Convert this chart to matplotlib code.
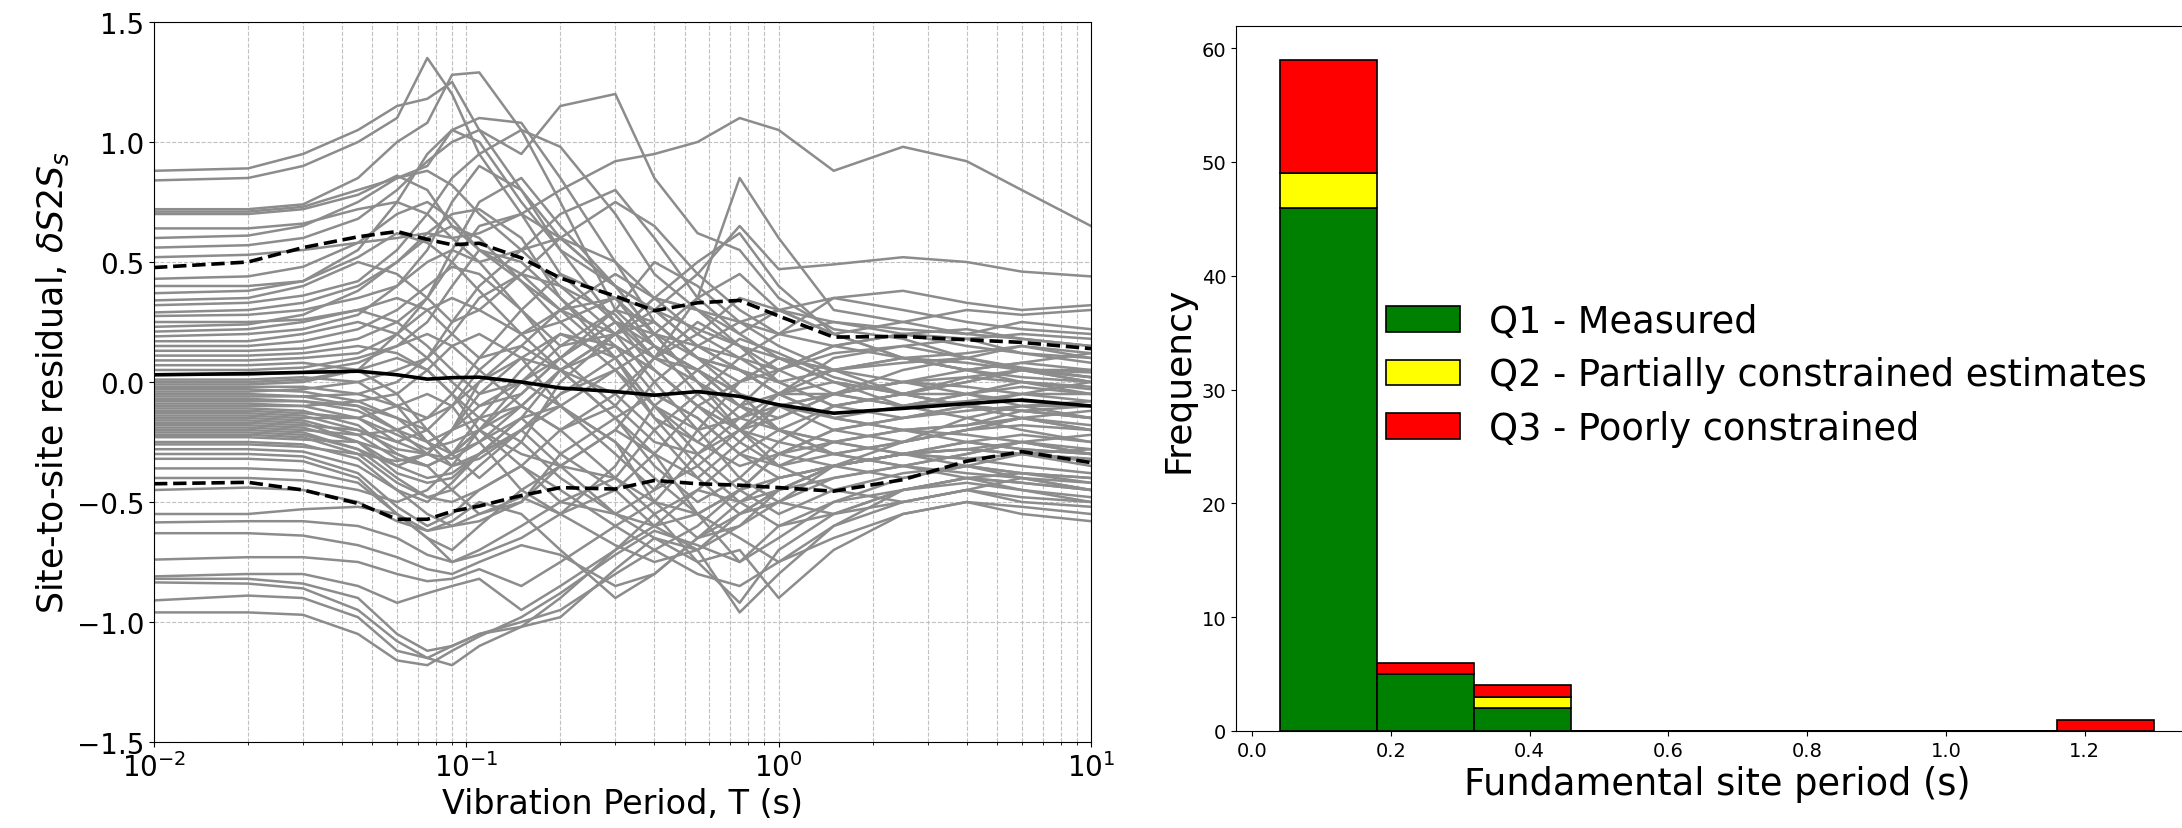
import matplotlib
matplotlib.use("Agg")
import matplotlib.pyplot as plt
import numpy as np

# periods (s) at which the site terms are tabulated
periods = [0.01, 0.02, 0.03, 0.045, 0.06, 0.075, 0.09, 0.11, 0.15, 0.2,
           0.3, 0.4, 0.55, 0.75, 1.0, 1.5, 2.5, 4.0, 6.0, 10.0]

# site-to-site residual per station
site_residuals = [
    [0.88, 0.89, 0.95, 1.05, 1.15, 1.18, 1.25, 1.05, 0.80, 0.60, 0.40, 0.30, 0.22, 0.15, 0.10, 0.05, 0.08, 0.10, 0.06, 0.02],
    [0.84, 0.85, 0.90, 1.00, 1.10, 1.35, 1.20, 0.95, 0.70, 0.45, 0.25, 0.10, 0.05, 0.18, 0.12, 0.02, -0.05, 0.00, 0.05, 0.04],
    [0.72, 0.72, 0.74, 0.85, 1.00, 1.08, 1.28, 1.29, 1.05, 0.75, 0.30, 0.15, 0.05, -0.10, -0.05, 0.05, 0.10, 0.12, 0.15, 0.10],
    [0.71, 0.71, 0.73, 0.80, 0.85, 0.90, 1.05, 1.10, 1.08, 0.85, 0.50, 0.35, 0.30, 0.25, 0.20, 0.15, 0.20, 0.22, 0.18, 0.15],
    [0.70, 0.70, 0.72, 0.78, 0.86, 0.80, 0.65, 0.55, 0.45, 0.30, 0.35, 0.20, 0.10, 0.05, -0.05, -0.15, -0.10, -0.05, -0.02, -0.05],
    [0.60, 0.61, 0.65, 0.75, 0.85, 0.88, 0.82, 0.70, 0.55, 0.40, 0.28, 0.10, 0.20, 0.35, 0.30, 0.20, 0.25, 0.30, 0.28, 0.30],
    [0.56, 0.57, 0.60, 0.68, 0.80, 0.92, 1.00, 1.05, 0.95, 1.15, 1.20, 0.85, 0.62, 0.55, 0.35, 0.22, 0.18, 0.10, 0.15, 0.12],
    [0.52, 0.53, 0.55, 0.58, 0.60, 0.62, 0.60, 0.62, 0.70, 0.80, 0.92, 0.95, 1.00, 1.10, 1.05, 0.88, 0.98, 0.92, 0.80, 0.65],
    [0.43, 0.44, 0.48, 0.58, 0.70, 0.75, 0.68, 0.55, 0.42, 0.30, 0.20, 0.30, 0.45, 0.65, 0.47, 0.49, 0.52, 0.50, 0.46, 0.44],
    [0.37, 0.38, 0.42, 0.52, 0.62, 0.58, 0.50, 0.38, 0.20, 0.05, -0.05, 0.10, 0.35, 0.85, 0.60, 0.30, 0.25, 0.20, 0.18, 0.15],
    [0.34, 0.35, 0.40, 0.50, 0.45, 0.35, 0.25, 0.30, 0.45, 0.60, 0.75, 0.65, 0.45, 0.30, 0.20, 0.35, 0.38, 0.33, 0.30, 0.32],
    [0.32, 0.33, 0.36, 0.42, 0.55, 0.70, 0.85, 0.95, 1.05, 0.98, 0.70, 0.45, 0.30, 0.20, 0.10, 0.00, -0.05, 0.02, 0.05, 0.00],
    [0.29, 0.30, 0.33, 0.40, 0.50, 0.62, 0.70, 0.72, 0.60, 0.35, 0.10, -0.10, -0.20, -0.15, -0.10, -0.05, 0.00, -0.02, -0.05, -0.08],
    [0.275, 0.28, 0.30, 0.35, 0.40, 0.50, 0.55, 0.50, 0.30, 0.15, 0.20, 0.35, 0.50, 0.62, 0.40, 0.20, 0.10, 0.05, 0.08, 0.05],
    [0.25, 0.25, 0.26, 0.30, 0.25, 0.15, 0.05, -0.05, 0.00, 0.10, 0.25, 0.15, 0.05, -0.05, -0.20, -0.25, -0.20, -0.18, -0.15, -0.20],
    [0.23, 0.24, 0.28, 0.38, 0.50, 0.60, 0.65, 0.60, 0.42, 0.25, 0.05, -0.15, -0.25, -0.10, 0.05, 0.15, 0.20, 0.18, 0.12, 0.10],
    [0.21, 0.22, 0.25, 0.30, 0.35, 0.30, 0.20, 0.10, 0.15, 0.30, 0.45, 0.35, 0.20, 0.10, 0.05, 0.12, 0.15, 0.10, 0.05, 0.02],
    [0.19, 0.20, 0.22, 0.28, 0.40, 0.55, 0.75, 0.90, 0.80, 0.55, 0.25, 0.05, -0.10, -0.20, -0.25, -0.10, -0.05, -0.10, -0.12, -0.15],
    [0.17, 0.17, 0.20, 0.25, 0.20, 0.10, 0.00, -0.10, -0.05, 0.10, 0.30, 0.50, 0.40, 0.25, 0.15, 0.05, 0.00, 0.05, 0.08, 0.12],
    [0.15, 0.15, 0.17, 0.22, 0.30, 0.40, 0.48, 0.45, 0.30, 0.10, -0.10, -0.25, -0.30, -0.20, -0.05, 0.10, 0.15, 0.18, 0.20, 0.18],
    [0.13, 0.13, 0.14, 0.18, 0.25, 0.35, 0.55, 0.75, 0.85, 0.65, 0.40, 0.20, 0.15, 0.05, -0.05, -0.15, -0.20, -0.25, -0.22, -0.25],
    [0.11, 0.11, 0.12, 0.15, 0.12, 0.05, -0.05, -0.15, -0.10, 0.05, 0.15, 0.05, -0.10, -0.25, -0.35, -0.30, -0.25, -0.20, -0.18, -0.20],
    [0.09, 0.09, 0.10, 0.12, 0.20, 0.30, 0.35, 0.30, 0.20, 0.25, 0.35, 0.30, 0.15, 0.25, 0.30, 0.25, 0.20, 0.15, 0.12, 0.08],
    [0.07, 0.07, 0.08, 0.05, -0.05, -0.20, -0.30, -0.25, -0.10, 0.05, 0.20, 0.10, 0.00, -0.10, -0.15, -0.05, 0.05, 0.10, 0.05, 0.00],
    [0.05, 0.05, 0.06, 0.10, 0.15, 0.20, 0.15, 0.05, -0.10, -0.20, -0.10, 0.10, 0.25, 0.15, 0.00, -0.10, -0.05, -0.05, -0.08, -0.10],
    [0.03, 0.03, 0.04, 0.08, 0.15, 0.25, 0.40, 0.55, 0.50, 0.35, 0.15, -0.05, -0.15, -0.30, -0.40, -0.35, -0.30, -0.25, -0.28, -0.30],
    [0.01, 0.01, 0.02, 0.00, -0.10, -0.25, -0.35, -0.30, -0.20, -0.05, 0.10, 0.20, 0.35, 0.45, 0.30, 0.20, 0.10, 0.05, 0.02, 0.00],
    [0.00, 0.00, 0.01, 0.05, 0.10, 0.05, -0.05, -0.20, -0.30, -0.35, -0.20, 0.00, 0.15, 0.05, -0.05, 0.00, -0.05, -0.10, -0.12, -0.15],
    [-0.01, -0.01, 0.00, 0.05, 0.20, 0.35, 0.50, 0.65, 0.70, 0.60, 0.40, 0.20, 0.00, -0.15, -0.20, -0.10, -0.05, 0.00, 0.05, 0.02],
    [-0.02, -0.02, -0.02, -0.05, -0.10, -0.15, -0.10, 0.00, 0.10, 0.20, 0.10, -0.10, -0.25, -0.35, -0.30, -0.20, -0.15, -0.10, -0.05, -0.05],
    [-0.03, -0.03, -0.04, -0.08, -0.15, -0.25, -0.30, -0.20, 0.00, 0.15, 0.30, 0.25, 0.10, 0.00, 0.05, 0.15, 0.10, 0.05, 0.00, -0.02],
    [-0.04, -0.04, -0.03, 0.00, 0.05, 0.10, 0.20, 0.35, 0.45, 0.40, 0.20, 0.00, -0.20, -0.40, -0.50, -0.35, -0.25, -0.20, -0.15, -0.18],
    [-0.05, -0.05, -0.06, -0.10, -0.20, -0.30, -0.35, -0.32, -0.20, -0.10, 0.05, 0.15, 0.05, -0.10, -0.20, -0.30, -0.35, -0.30, -0.25, -0.30],
    [-0.06, -0.06, -0.06, -0.05, 0.00, 0.10, 0.25, 0.40, 0.55, 0.60, 0.50, 0.25, 0.10, 0.05, 0.00, 0.05, 0.10, 0.08, 0.05, 0.05],
    [-0.07, -0.07, -0.08, -0.12, -0.20, -0.25, -0.20, -0.10, 0.00, -0.10, -0.30, -0.45, -0.35, -0.20, -0.10, -0.15, -0.20, -0.18, -0.12, -0.10],
    [-0.08, -0.08, -0.08, -0.10, -0.15, -0.20, -0.30, -0.40, -0.25, 0.00, 0.20, 0.35, 0.30, 0.15, 0.05, -0.05, -0.10, -0.05, 0.00, -0.05],
    [-0.09, -0.09, -0.10, -0.15, -0.25, -0.30, -0.32, -0.25, -0.15, -0.30, -0.45, -0.30, -0.10, 0.00, 0.10, 0.05, -0.05, -0.10, -0.15, -0.12],
    [-0.10, -0.10, -0.10, -0.08, -0.05, 0.05, 0.15, 0.20, 0.10, -0.10, -0.25, -0.40, -0.55, -0.45, -0.30, -0.25, -0.30, -0.35, -0.40, -0.45],
    [-0.11, -0.11, -0.12, -0.18, -0.30, -0.35, -0.30, -0.15, 0.05, 0.20, 0.15, 0.05, -0.10, -0.20, -0.15, -0.05, 0.00, -0.05, -0.10, -0.08],
    [-0.12, -0.12, -0.13, -0.15, -0.22, -0.28, -0.25, -0.20, -0.35, -0.50, -0.40, -0.20, -0.05, 0.10, 0.00, -0.10, -0.15, -0.12, -0.10, -0.15],
    [-0.13, -0.13, -0.14, -0.20, -0.28, -0.30, -0.20, 0.00, 0.15, 0.05, -0.15, -0.30, -0.40, -0.25, -0.10, -0.20, -0.25, -0.20, -0.15, -0.20],
    [-0.14, -0.14, -0.15, -0.15, -0.10, -0.05, -0.10, -0.25, -0.45, -0.55, -0.35, -0.10, 0.05, -0.05, -0.20, -0.30, -0.25, -0.15, -0.10, -0.10],
    [-0.15, -0.15, -0.16, -0.22, -0.32, -0.35, -0.30, -0.20, -0.10, -0.20, -0.40, -0.50, -0.30, -0.15, -0.05, -0.05, -0.10, -0.08, -0.05, 0.00],
    [-0.16, -0.16, -0.17, -0.25, -0.35, -0.40, -0.38, -0.30, -0.15, 0.05, 0.20, 0.25, 0.10, -0.05, -0.10, -0.05, 0.00, 0.02, 0.00, -0.03],
    [-0.17, -0.17, -0.18, -0.20, -0.25, -0.20, -0.10, 0.05, 0.20, 0.30, 0.10, -0.15, -0.35, -0.50, -0.45, -0.35, -0.30, -0.28, -0.25, -0.22],
    [-0.18, -0.18, -0.19, -0.25, -0.38, -0.42, -0.40, -0.30, -0.20, -0.35, -0.55, -0.60, -0.45, -0.30, -0.20, -0.25, -0.30, -0.32, -0.30, -0.35],
    [-0.19, -0.19, -0.20, -0.22, -0.20, -0.15, -0.05, 0.10, 0.30, 0.45, 0.35, 0.15, -0.05, -0.20, -0.30, -0.35, -0.40, -0.35, -0.30, -0.28],
    [-0.20, -0.20, -0.21, -0.28, -0.40, -0.48, -0.50, -0.45, -0.35, -0.20, -0.05, -0.20, -0.40, -0.55, -0.50, -0.40, -0.35, -0.30, -0.25, -0.30],
    [-0.21, -0.21, -0.22, -0.28, -0.35, -0.30, -0.20, -0.15, -0.25, -0.40, -0.55, -0.45, -0.20, 0.00, 0.10, 0.00, -0.10, -0.15, -0.20, -0.25],
    [-0.22, -0.22, -0.23, -0.30, -0.42, -0.48, -0.45, -0.35, -0.20, -0.05, 0.05, -0.10, -0.30, -0.45, -0.55, -0.45, -0.38, -0.35, -0.38, -0.40],
    [-0.23, -0.23, -0.24, -0.25, -0.30, -0.35, -0.45, -0.55, -0.50, -0.30, -0.15, -0.05, -0.15, -0.30, -0.35, -0.25, -0.20, -0.22, -0.25, -0.28],
    [-0.25, -0.25, -0.26, -0.32, -0.45, -0.50, -0.42, -0.30, -0.15, -0.10, -0.25, -0.50, -0.65, -0.60, -0.45, -0.35, -0.30, -0.28, -0.30, -0.32],
    [-0.26, -0.26, -0.27, -0.30, -0.33, -0.30, -0.20, -0.05, 0.10, 0.05, -0.15, -0.35, -0.50, -0.40, -0.25, -0.30, -0.35, -0.40, -0.42, -0.45],
    [-0.28, -0.28, -0.29, -0.35, -0.45, -0.55, -0.60, -0.58, -0.50, -0.35, -0.20, -0.30, -0.55, -0.75, -0.65, -0.50, -0.40, -0.35, -0.38, -0.40],
    [-0.30, -0.30, -0.31, -0.38, -0.52, -0.60, -0.55, -0.45, -0.35, -0.45, -0.60, -0.70, -0.60, -0.45, -0.30, -0.20, -0.15, -0.10, -0.12, -0.15],
    [-0.32, -0.32, -0.33, -0.40, -0.55, -0.65, -0.70, -0.60, -0.45, -0.35, -0.40, -0.55, -0.75, -0.92, -0.70, -0.55, -0.45, -0.40, -0.45, -0.50],
    [-0.36, -0.36, -0.37, -0.42, -0.55, -0.62, -0.58, -0.50, -0.55, -0.70, -0.90, -0.80, -0.65, -0.55, -0.45, -0.35, -0.30, -0.25, -0.28, -0.30],
    [-0.45, -0.44, -0.45, -0.50, -0.58, -0.62, -0.60, -0.55, -0.48, -0.55, -0.68, -0.75, -0.70, -0.96, -0.80, -0.60, -0.45, -0.40, -0.42, -0.45],
    [-0.55, -0.55, -0.53, -0.52, -0.55, -0.65, -0.75, -0.70, -0.60, -0.50, -0.55, -0.65, -0.75, -0.70, -0.90, -0.70, -0.55, -0.50, -0.52, -0.55],
    [-0.585, -0.58, -0.58, -0.60, -0.65, -0.72, -0.75, -0.72, -0.65, -0.55, -0.45, -0.60, -0.70, -0.60, -0.50, -0.55, -0.50, -0.45, -0.48, -0.50],
    [-0.63, -0.63, -0.64, -0.68, -0.73, -0.78, -0.80, -0.75, -0.68, -0.72, -0.85, -0.80, -0.65, -0.50, -0.40, -0.35, -0.30, -0.32, -0.35, -0.38],
    [-0.74, -0.73, -0.73, -0.75, -0.80, -0.83, -0.82, -0.78, -0.85, -0.75, -0.60, -0.50, -0.55, -0.65, -0.75, -0.60, -0.50, -0.45, -0.50, -0.52],
    [-0.81, -0.80, -0.80, -0.85, -0.92, -0.88, -0.85, -0.82, -0.95, -0.85, -0.70, -0.55, -0.45, -0.50, -0.60, -0.55, -0.45, -0.40, -0.38, -0.42],
    [-0.82, -0.82, -0.84, -0.90, -1.05, -1.12, -1.10, -1.05, -1.00, -0.95, -0.80, -0.70, -0.80, -0.85, -0.75, -0.65, -0.55, -0.50, -0.55, -0.58],
    [-0.835, -0.84, -0.86, -0.95, -1.08, -1.15, -1.18, -1.10, -1.02, -0.90, -0.70, -0.60, -0.55, -0.45, -0.40, -0.35, -0.30, -0.28, -0.30, -0.33],
    [-0.91, -0.89, -0.90, -0.98, -1.12, -1.15, -1.10, -1.05, -1.02, -0.98, -0.78, -0.65, -0.70, -0.55, -0.45, -0.40, -0.35, -0.38, -0.40, -0.45],
    [-0.96, -0.96, -0.97, -1.05, -1.16, -1.18, -1.12, -1.06, -0.98, -0.88, -0.72, -0.62, -0.68, -0.75, -0.60, -0.50, -0.45, -0.42, -0.45, -0.48],
    [0.40, 0.40, 0.42, 0.55, 0.75, 0.95, 1.05, 1.00, 0.75, 0.55, 0.40, 0.30, 0.15, 0.10, 0.20, 0.25, 0.22, 0.20, 0.25, 0.22],
    [0.64, 0.64, 0.66, 0.72, 0.75, 0.70, 0.60, 0.50, 0.55, 0.70, 0.80, 0.60, 0.35, 0.20, 0.30, 0.35, 0.30, 0.25, 0.22, 0.20],
    [-0.40, -0.40, -0.41, -0.45, -0.50, -0.45, -0.35, -0.20, -0.05, 0.10, 0.25, 0.20, 0.00, -0.20, -0.35, -0.45, -0.50, -0.45, -0.40, -0.42],
]

# mean and mean +/- one standard deviation
mean_residual = [0.03, 0.035, 0.04, 0.045, 0.03, 0.012, 0.018, 0.02, 0.0, -0.025,
                 -0.04, -0.055, -0.04, -0.06, -0.095, -0.13, -0.11, -0.09, -0.075, -0.10]
upper_residual = [0.477, 0.50, 0.56, 0.605, 0.627, 0.594, 0.572, 0.578, 0.517, 0.433,
                  0.358, 0.297, 0.33, 0.34, 0.275, 0.187, 0.19, 0.176, 0.165, 0.139]
lower_residual = [-0.424, -0.418, -0.45, -0.506, -0.572, -0.572, -0.539, -0.517, -0.473, -0.44,
                  -0.446, -0.41, -0.424, -0.43, -0.44, -0.455, -0.407, -0.33, -0.29, -0.336]

# fundamental site period histogram, counts per bin for each quality class
bin_edges = [0.04, 0.18, 0.32, 0.46, 0.60, 0.74, 0.88, 1.02, 1.16, 1.30]
q1_counts = [46, 5, 2, 0, 0, 0, 0, 0, 0]
q2_counts = [3, 0, 1, 0, 0, 0, 0, 0, 0]
q3_counts = [10, 1, 1, 0, 0, 0, 0, 0, 1]
quality_labels = ["Q1 - Measured", "Q2 - Partially constrained estimates",
                  "Q3 - Poorly constrained"]
quality_colors = ["green", "yellow", "red"]

fig = plt.figure(figsize=(21.82, 8.29), dpi=100)

# left panel: residuals vs period
ax1 = fig.add_axes([154 / 2182, 86 / 829, 937 / 2182, 720 / 829])
for row in site_residuals:
    ax1.plot(periods, row, color="#8c8c8c", linewidth=1.8)
ax1.plot(periods, mean_residual, color="black", linewidth=2.6)
ax1.plot(periods, upper_residual, color="black", linewidth=2.6, linestyle="--")
ax1.plot(periods, lower_residual, color="black", linewidth=2.6, linestyle="--")
ax1.set_xscale("log")
ax1.set_xlim(1e-2, 1e1)
ax1.set_ylim(-1.5, 1.5)
ax1.set_yticks(np.arange(-1.5, 1.51, 0.5))
ax1.grid(True, which="major", axis="y", linestyle="--", color="#c0c0c0", linewidth=0.8)
ax1.grid(True, which="both", axis="x", linestyle="--", color="#c0c0c0", linewidth=0.8)
ax1.tick_params(labelsize=20)
ax1.set_xlabel("Vibration Period, T (s)", fontsize=24)
ax1.set_ylabel(r"Site-to-site residual, $\delta S2S_s$", fontsize=25)

# right panel: stacked histogram of site periods
ax2 = fig.add_axes([1236 / 2182, 97 / 829, 962 / 2182, 705 / 829])
centers = [(a + b) / 2 for a, b in zip(bin_edges[:-1], bin_edges[1:])]
ax2.hist([centers] * 3, bins=bin_edges, weights=[q1_counts, q2_counts, q3_counts],
         stacked=True, color=quality_colors, edgecolor="black", linewidth=1.2,
         label=quality_labels)
ax2.set_xticks([0.0, 0.2, 0.4, 0.6, 0.8, 1.0, 1.2])
ax2.tick_params(labelsize=14)
ax2.set_xlabel("Fundamental site period (s)", fontsize=26.5)
ax2.set_ylabel("Frequency", fontsize=26)
ax2.legend(loc="center left", bbox_to_anchor=(0.141, 0.505), fontsize=26.5,
           frameon=False, borderaxespad=0, labelspacing=0.45)

fig.savefig("out.png", dpi=100)
